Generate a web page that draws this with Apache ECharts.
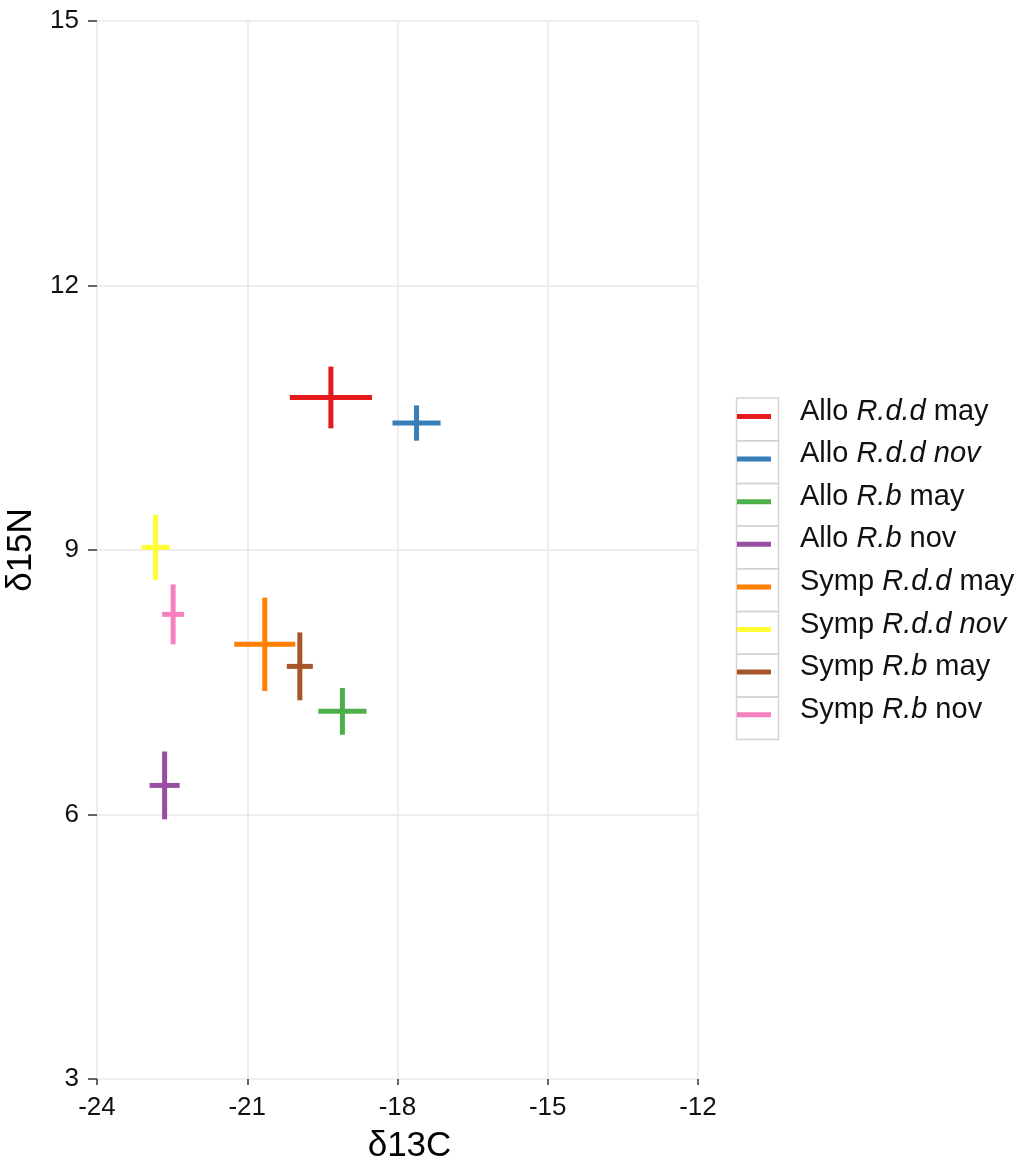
<!DOCTYPE html>
<html>
<head>
<meta charset="utf-8">
<script src="https://cdn.jsdelivr.net/npm/echarts@6/dist/echarts.min.js"></script>
<style>html,body{margin:0;padding:0;background:#fff}#chart{width:1019px;height:1166px}</style>
</head>
<body>
<div id="chart"></div>
<script>
// ---- data ----
var siteLabels = ['Allo', 'Allo', 'Allo', 'Allo', 'Symp', 'Symp', 'Symp', 'Symp'];
var speciesLabels = ['R.d.d', 'R.d.d', 'R.b', 'R.b', 'R.d.d', 'R.d.d', 'R.b', 'R.b'];
var monthLabels = ['may', 'nov', 'may', 'nov', 'may', 'nov', 'may', 'nov'];
var monthItalic = [false, true, false, false, false, true, false, false];
var colors = ['#E41A1C', '#377EB8', '#4DAF4A', '#984EA3', '#FF7F00', '#FFFF33', '#A65628', '#F781BF'];
var d13cMean = [-19.33, -17.62, -19.10, -22.65, -20.65, -22.83, -19.95, -22.48];
var d15nMean = [10.73, 10.44, 7.17, 6.33, 7.93, 9.03, 7.68, 8.27];
var d13cSd = [0.82, 0.48, 0.48, 0.30, 0.61, 0.28, 0.26, 0.22];
var d15nSd = [0.35, 0.20, 0.265, 0.385, 0.53, 0.37, 0.385, 0.34];
var xTicks = [-24, -21, -18, -15, -12];
var yTicks = [3, 6, 9, 12, 15];

// ---- chart ----
var FONT = '"Liberation Sans", Arial, sans-serif';
var names = siteLabels.map(function (s, i) { return s + ' ' + speciesLabels[i] + ' ' + monthLabels[i]; });

var series = names.map(function (nm, i) {
  return {
    name: nm,
    type: 'custom',
    itemStyle: { color: colors[i] },
    data: [[d13cMean[i], d15nMean[i], d13cSd[i], d15nSd[i]]],
    renderItem: function (params, api) {
      var x = api.value(0), y = api.value(1), sx = api.value(2), sy = api.value(3);
      var l = api.coord([x - sx, y]), r = api.coord([x + sx, y]);
      var b = api.coord([x, y - sy]), t = api.coord([x, y + sy]);
      var st = { stroke: colors[i], lineWidth: 5, fill: null };
      return {
        type: 'group',
        children: [
          { type: 'line', shape: { x1: l[0], y1: l[1], x2: r[0], y2: r[1] }, style: st },
          { type: 'line', shape: { x1: b[0], y1: b[1], x2: t[0], y2: t[1] }, style: st }
        ]
      };
    }
  };
});

var boxTop = 395.5, boxH = 42.7;
var boxes = names.map(function (nm, i) {
  return {
    type: 'rect',
    left: 734, top: boxTop + i * boxH,
    shape: { width: 42, height: boxH },
    style: { fill: 'none', stroke: '#d4d4d4', lineWidth: 1.5 },
    z: -1
  };
});

var chart = echarts.init(document.getElementById('chart'), null, { renderer: 'canvas' });
chart.setOption({
  backgroundColor: '#fff',
  animation: false,
  grid: { left: 97, right: 321, top: 21, bottom: 87, containLabel: false, outerBoundsMode: 'none' },
  xAxis: {
    type: 'value', min: xTicks[0], max: xTicks[xTicks.length - 1], interval: 3,
    name: 'δ13C', nameLocation: 'middle', nameGap: 50,
    nameTextStyle: { fontSize: 35, fontFamily: FONT, color: '#000', padding: [0, 0, 0, 24] },
    axisLine: { show: false },
    axisTick: { show: true, length: 6, lineStyle: { color: '#333', width: 1.5 } },
    axisLabel: { fontSize: 26, fontFamily: FONT, color: '#111', margin: 16 },
    splitLine: { show: true, lineStyle: { color: '#e8e8e8', width: 1.5 } }
  },
  yAxis: {
    type: 'value', min: yTicks[0], max: yTicks[yTicks.length - 1], interval: 3,
    name: 'δ15N', nameLocation: 'middle', nameGap: 40, nameRotate: 90,
    nameTextStyle: { fontSize: 35, fontFamily: FONT, color: '#000' },
    axisLine: { show: false },
    axisTick: { show: true, length: 9, lineStyle: { color: '#333', width: 1.5 } },
    axisLabel: { fontSize: 26, fontFamily: FONT, color: '#111', margin: 18 },
    splitLine: { show: true, lineStyle: { color: '#e8e8e8', width: 1.5 } }
  },
  legend: {
    orient: 'vertical', left: 737, top: 397, padding: 0,
    icon: 'rect', itemWidth: 34, itemHeight: 5, itemGap: 13.6,
    data: names,
    formatter: function (name) {
      var i = names.indexOf(name);
      var m = monthItalic[i] ? '{i| ' + monthLabels[i] + '}' : '{n| ' + monthLabels[i] + '}';
      return '{s| }{n|' + siteLabels[i] + ' }{i|' + speciesLabels[i] + '}' + m;
    },
    textStyle: {
      padding: [0, 0, 10, 0],
      rich: {
        s: { width: 24, fontSize: 29, lineHeight: 30 },
        n: { fontSize: 29, fontFamily: FONT, color: '#111', lineHeight: 30 },
        i: { fontSize: 29, fontFamily: FONT, color: '#111', fontStyle: 'italic', lineHeight: 30 }
      }
    }
  },
  graphic: boxes,
  series: series
});
</script>
</body>
</html>
